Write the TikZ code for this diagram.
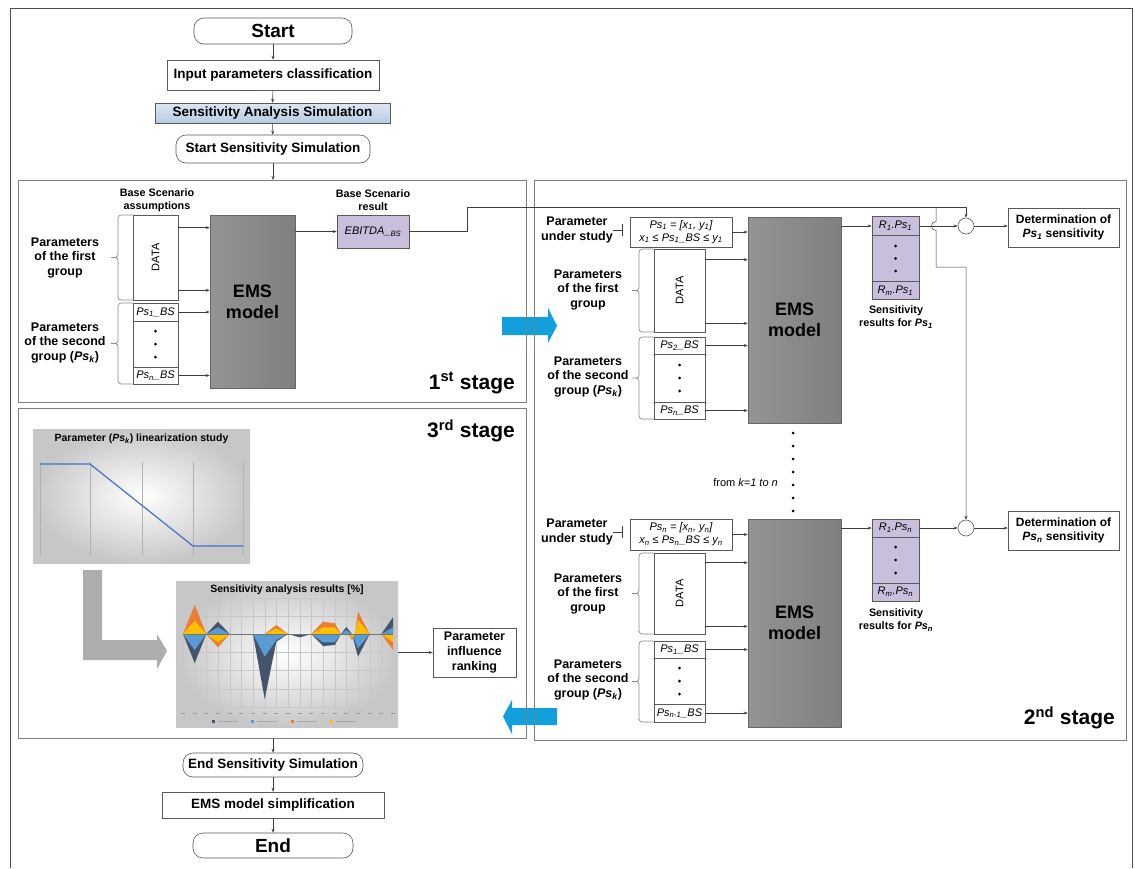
\documentclass[tikz,border=0pt]{standalone}
\usepackage{graphicx}
\usepackage{fontspec}
\setmainfont{Liberation Sans}
\usetikzlibrary{arrows.meta}
\definecolor{sasA}{HTML}{DCE6F1}
\definecolor{sasB}{HTML}{B8CCE4}
\definecolor{purp}{HTML}{C9BEDC}
\definecolor{cyanarrow}{HTML}{12A0DC}
\definecolor{framec}{HTML}{7F7F7F}
\definecolor{orng}{HTML}{ED7D31}
\definecolor{yell}{HTML}{FFC000}
\definecolor{lblue}{HTML}{5B9BD5}
\definecolor{dblue}{HTML}{44546A}
\definecolor{linblue}{HTML}{4472C4}
\newcommand\fsz[2]{\fontsize{#1}{#2}\selectfont}
\newcommand\mybrace[3]{%
  \pgfmathsetmacro\bxv{#1-15}\pgfmathsetmacro\bxt{#1-22}\pgfmathsetmacro\bym{(#2+#3)/2}%
  \draw[bracel] (#1,#2) -- (\bxv+7,#2) .. controls (\bxv,#2) .. (\bxv,#2+7)
    -- (\bxv,\bym-6) .. controls (\bxv,\bym) .. (\bxt,\bym)
    .. controls (\bxv,\bym) .. (\bxv,\bym+6) -- (\bxv,#3-7)
    .. controls (\bxv,#3) .. (\bxv+7,#3) -- (#1,#3);}
\begin{document}
\begin{tikzpicture}[x=1pt,y=-1pt,
  box/.style={draw=black!65, line width=0.6pt, fill=white, inner sep=0pt, align=center, text=black},
  flow/.style={box, font=\fsz{13.5}{16}\bfseries},
  term/.style={flow, rounded corners=10pt},
  lbl/.style={inner sep=0pt, align=center, font=\fsz{12.5}{14.5}\bfseries},
  slbl/.style={inner sep=0pt, align=center, font=\fsz{10.8}{13}\bfseries},
  itbox/.style={box, font=\fsz{11}{13}\itshape},
  purpbox/.style={itbox, fill=purp},
  ems/.style={draw=black!60, line width=0.6pt, left color=black!42, right color=black!50, inner sep=0pt, align=center, font=\fsz{18}{21}\bfseries},
  stagebox/.style={draw=framec, line width=1pt},
  arr/.style={draw=black!75, line width=0.5pt, -{Stealth[length=4pt,width=3pt]}},
  ln/.style={draw=black!75, line width=0.5pt},
  bracel/.style={draw=black!45, line width=0.7pt},
  stagelbl/.style={inner sep=0pt, anchor=east, font=\fsz{21}{24}\bfseries},
  detbox/.style={box, font=\fsz{12}{14.5}\bfseries, minimum width=111, minimum height=39},
  dotc/.style={fill=black}
]
\useasboundingbox (0,0) rectangle (1135,868);
\fill[white] (0,0) rectangle (1135,868);
\draw[black!70, line width=0.8pt] (10,868) -- (10,8) -- (1132,8) -- (1132,868);

% ---------- blue transfer arrows ----------
\fill[cyanarrow] (502,317) -- (548,317) -- (548,308) -- (557,326) -- (548,343) -- (548,335) -- (502,335) -- cycle;
\fill[cyanarrow] (557,708) -- (512,708) -- (512,700) -- (503,716.5) -- (512,734) -- (512,725) -- (557,725) -- cycle;

% ---------- stage frames ----------
\draw[stagebox] (18,180) rectangle (526,402);
\draw[stagebox] (18,408) rectangle (526,738);
\draw[stagebox] (534,180) rectangle (1126,740);
\coordinate (s1top) at (273,180);
\coordinate (s3bot) at (273,738);

% ---------- top flow ----------
\node[term, font=\fsz{19}{22}\bfseries, minimum width=158, minimum height=26] (start) at (273,31) {Start};
\node[flow, minimum width=212, minimum height=30] (input) at (273,75) {Input parameters classification};
\node[flow, top color=sasA, bottom color=sasB, minimum width=235, minimum height=20] (sas) at (272.5,113) {Sensitivity Analysis Simulation};
\node[term, minimum width=194, minimum height=28] (sss) at (273,149) {Start Sensitivity Simulation};
\draw[arr] (start) -- (input);
\draw[arr] (input) -- (sas);
\draw[arr] (sas) -- (sss);
\draw[arr] (sss) -- (s1top);

% ---------- bottom flow ----------
\node[term, minimum width=180, minimum height=24] (ess) at (273,765) {End Sensitivity Simulation};
\node[flow, minimum width=222, minimum height=26] (simp) at (273,805) {EMS model simplification};
\node[term, font=\fsz{19}{22}\bfseries, minimum width=160, minimum height=25] (endn) at (273,845.5) {End};
\draw[arr] (s3bot) -- (ess);
\draw[arr] (ess) -- (simp);
\draw[arr] (simp) -- (endn);

% ---------- 1st stage ----------
\node[slbl] (bsa) at (157,200) {Base Scenario\\assumptions};
\node[box, minimum width=45, minimum height=85] (data1) at (155.5,257.5) {\rotatebox{90}{\fsz{11}{13}DATA}};
\node[itbox, minimum width=45, minimum height=18] (p1a) at (155.5,312) {Ps\textsubscript{1}\_BS};
\node[box, minimum width=45, minimum height=46] (d1) at (155.5,344) {};
\node[itbox, minimum width=45, minimum height=17] (pn1) at (155.5,375.5) {Ps\textsubscript{n}\_BS};
\foreach \yy in {331,344,357} \fill[dotc] (155.5,\yy) circle (1.5pt);
\node[ems, minimum width=85, minimum height=173] (ems1) at (252.5,301.5) {EMS\\model};
\node[purpbox, minimum width=72, minimum height=33] (ebitda) at (373,231.5) {EBITDA\_\textsubscript{BS}};
\node[slbl] (bsr) at (373,200) {Base Scenario\\result};
\draw[arr] ([yshift=-13pt]data1.north east) -- ([yshift=-13pt]data1.north east -| ems1.west);
\draw[arr] ([yshift=10pt]data1.south east) -- ([yshift=10pt]data1.south east -| ems1.west);
\draw[arr] (p1a.east) -- (p1a.east -| ems1.west);
\draw[arr] (pn1.east) -- (pn1.east -| ems1.west);
\draw[arr] (ems1.east |- ebitda.west) -- (ebitda.west);
\mybrace{133}{215}{300}
\mybrace{133}{303}{384}
\node[lbl] (g1a) at (65,258) {Parameters\\of the first\\group};
\node[lbl] (g2a) at (65,343) {Parameters\\of the second\\group (\textit{Ps\textsubscript{k}})};
\node[stagelbl] (st1) at (515,383) {1\textsuperscript{st} stage};

% ---------- 2nd stage, first parameter ----------
\node[lbl] (pus1) at (577,230) {Parameter\\under study};
\node[itbox, minimum width=102, minimum height=30] (rg1) at (681,232) {Ps\textsubscript{1} = [x\textsubscript{1}, y\textsubscript{1}]\\x\textsubscript{1} ≤ Ps\textsubscript{1}\_BS ≤ y\textsubscript{1}};
\draw[ln, -{Bar[width=12pt]}, shorten >=7pt] (pus1.east) -- (pus1.east -| rg1.west);
\node[ems, minimum width=93, minimum height=206] (ems2a) at (794.5,320) {EMS\\model};
\draw[arr] (rg1.east) -- (rg1.east -| ems2a.west);
\node[box, minimum width=51, minimum height=83] (data2a) at (679.5,290.5) {\rotatebox{90}{\fsz{11}{13}DATA}};
\node[itbox, minimum width=51, minimum height=17] (p2a) at (679.5,345.5) {Ps\textsubscript{2}\_BS};
\node[box, minimum width=51, minimum height=48] (d2a) at (679.5,378) {};
\node[itbox, minimum width=51, minimum height=17] (pn2a) at (679.5,410.5) {Ps\textsubscript{n}\_BS};
\foreach \yy in {365,378,391} \fill[dotc] (679.5,\yy) circle (1.5pt);
\draw[arr] ([yshift=-11pt]data2a.north east) -- ([yshift=-11pt]data2a.north east -| ems2a.west);
\draw[arr] ([yshift=9pt]data2a.south east) -- ([yshift=9pt]data2a.south east -| ems2a.west);
\draw[arr] (p2a.east) -- (p2a.east -| ems2a.west);
\draw[arr] (pn2a.east) -- (pn2a.east -| ems2a.west);
\mybrace{654}{249}{332}
\mybrace{654}{337}{419}
\node[lbl] (g1b) at (588,290) {Parameters\\of the first\\group};
\node[lbl] (g2b) at (588,377) {Parameters\\of the second\\group (\textit{Ps\textsubscript{k}})};
\node[purpbox, minimum width=47, minimum height=19] (r11) at (895.5,226) {R\textsubscript{1}.Ps\textsubscript{1}};
\node[purpbox, minimum width=47, minimum height=46] (rd1) at (895.5,258.5) {};
\node[purpbox, minimum width=47, minimum height=18] (rm1) at (895.5,290.5) {R\textsubscript{m}.Ps\textsubscript{1}};
\foreach \yy in {246,258.5,271} \fill[dotc] (895.5,\yy) circle (1.5pt);
\node[slbl] (sr1) at (896,317) {Sensitivity\\results for \textit{Ps\textsubscript{1}}};
\node[circle, draw=black!65, fill=white, line width=0.6pt, minimum size=16, inner sep=0pt] (c1) at (966,226) {};
\node[detbox] (det1) at (1063.5,227.5) {Determination of\\\textit{Ps\textsubscript{1}} sensitivity};
\draw[arr] (ems2a.east |- r11.west) -- (r11.west);
\draw[arr] (r11.east) -- (c1.west);
\draw[arr] (c1.east) -- (c1.east -| det1.west);

% ---------- connections from base scenario result ----------
\coordinate (j1) at (467,207);
\coordinate (j2) at (936,207);
\coordinate (hopa) at (936,221.5);
\coordinate (hopb) at (936,230.5);
\coordinate (j3) at (936,267);
\draw[arr] (ebitda.east) -| (j1) -| (c1.north);

% ---------- dots between ----------
\foreach \yy in {433,446,459,472,485,498,511} \fill[dotc] (793,\yy) circle (1.5pt);
\node[inner sep=0pt, anchor=east, font=\fsz{11}{13}] (fromk) at (778,483) {from \textit{k=1 to n}};

% ---------- 2nd stage, last parameter ----------
\node[lbl] (pus2) at (577,532) {Parameter\\under study};
\node[itbox, minimum width=102, minimum height=31] (rg2) at (681,534.5) {Ps\textsubscript{n} = [x\textsubscript{n}, y\textsubscript{n}]\\x\textsubscript{n} ≤ Ps\textsubscript{n}\_BS ≤ y\textsubscript{n}};
\draw[ln, -{Bar[width=12pt]}, shorten >=7pt] (pus2.east) -- (pus2.east -| rg2.west);
\node[ems, minimum width=93, minimum height=208] (ems2b) at (794.5,623) {EMS\\model};
\draw[arr] (rg2.east) -- (rg2.east -| ems2b.west);
\node[box, minimum width=51, minimum height=81] (data2b) at (679.5,593.5) {\rotatebox{90}{\fsz{11}{13}DATA}};
\node[itbox, minimum width=51, minimum height=17] (p1b) at (679.5,649.5) {Ps\textsubscript{1}\_BS};
\node[box, minimum width=51, minimum height=46] (d2b) at (679.5,681) {};
\node[itbox, minimum width=51, minimum height=18] (pn1b) at (679.5,713) {Ps\textsubscript{n-1}\_BS};
\foreach \yy in {668,681,694} \fill[dotc] (679.5,\yy) circle (1.5pt);
\draw[arr] ([yshift=-10pt]data2b.north east) -- ([yshift=-10pt]data2b.north east -| ems2b.west);
\draw[arr] ([yshift=8pt]data2b.south east) -- ([yshift=8pt]data2b.south east -| ems2b.west);
\draw[arr] (p1b.east) -- (p1b.east -| ems2b.west);
\draw[arr] (pn1b.east) -- (pn1b.east -| ems2b.west);
\mybrace{654}{553}{634}
\mybrace{654}{641}{722}
\node[lbl] (g1c) at (588,594) {Parameters\\of the first\\group};
\node[lbl] (g2c) at (588,680) {Parameters\\of the second\\group (\textit{Ps\textsubscript{k}})};
\node[purpbox, minimum width=47, minimum height=18] (r12) at (895.5,528) {R\textsubscript{1}.Ps\textsubscript{n}};
\node[purpbox, minimum width=47, minimum height=46] (rd2) at (895.5,560) {};
\node[purpbox, minimum width=47, minimum height=18] (rm2) at (895.5,592) {R\textsubscript{m}.Ps\textsubscript{n}};
\foreach \yy in {547,560,573} \fill[dotc] (895.5,\yy) circle (1.5pt);
\node[slbl] (sr2) at (896,620) {Sensitivity\\results for \textit{Ps\textsubscript{n}}};
\node[circle, draw=black!65, fill=white, line width=0.6pt, minimum size=16, inner sep=0pt] (c2) at (966,528) {};
\node[detbox] (det2) at (1063.5,530.5) {Determination of\\\textit{Ps\textsubscript{n}} sensitivity};
\draw[arr] (ems2b.east |- r12.west) -- (r12.west);
\draw[arr] (r12.east) -- (c2.west);
\draw[arr] (c2.east) -- (c2.east -| det2.west);
\draw[arr] (j2) -- (hopa) .. controls +(-6,0) and +(-6,0) .. (hopb) -- (j3) -| (c2.north);
\node[stagelbl] (st2) at (1115,718) {2\textsuperscript{nd} stage};

% ---------- 3rd stage ----------
\node[stagelbl] (st3) at (515,431) {3\textsuperscript{rd} stage};
\node[inner sep=0pt, minimum width=217, minimum height=134, shading=radial, inner color=white, outer color=black!22] (lin) at (141.5,496) {};
\node[inner sep=0pt, font=\fsz{10.5}{12}\bfseries] (lintitle) at (141.5,439) {Parameter (\textit{Ps\textsubscript{k}}) linearization study};
\foreach \xx in {40,90,142,193,243} \draw[black!30, line width=0.4pt] (\xx,462) -- (\xx,556);
\draw[linblue, line width=1.2pt] (40,464) -- (90,464) -- (193,546) -- (243,546);
\fill[black!32] (83,570) -- (102,570) -- (102,640) -- (157,640) -- (157,634) -- (167,651) -- (157,669) -- (157,660) -- (83,660) -- cycle;

\node[inner sep=0pt, minimum width=222, minimum height=146, shading=radial, inner color=white, outer color=black!22] (sens) at (287,654) {};
\node[inner sep=0pt, font=\fsz{10.5}{12}\bfseries] (senstitle) at (287,590) {Sensitivity analysis results [\%]};
\foreach \xx in {183,194.7,206.3,218,229.7,241.3,253,264.7,276.3,288,299.7,311.3,323,334.7,346.3,358,369.7,381.3,393}
  {\draw[black!22, line width=0.4pt] (\xx,598) -- (\xx,707);
   \draw[black!40, line width=0.7pt] (\xx-2,713) -- (\xx+2,713);}
\foreach \yy in {598,616,652,670,689,707} \draw[black!22, line width=0.4pt] (183,\yy) -- (393,\yy);
\fill[dblue] (183,634) -- (194.7,663) -- (206.3,634) -- (218,621.7) -- (229.7,634) -- (253,634) -- (264.7,699) -- (276.3,641.7) -- (288,634) -- (299.7,637.3) -- (311.3,634) -- (323,646) -- (334.7,645) -- (341,634) -- (346.3,627) -- (352,634) -- (358,656.7) -- (369.7,634) -- (381.3,634) -- (393,617.3) -- (393,634) -- cycle;
\fill[lblue] (183,634) -- (194.7,650) -- (206.3,634) -- (218,627.3) -- (229.7,634) -- (253,634) -- (264.7,656.7) -- (276.3,640) -- (288,634) -- (311.3,634) -- (323,642.3) -- (334.7,642.3) -- (341,634) -- (346.3,630) -- (352,634) -- (358,648.3) -- (369.7,634) -- (381.3,634) -- (393,627.3) -- (393,634) -- cycle;
\fill[orng] (183,634) -- (194.7,605) -- (206.3,634) -- (218,647.3) -- (229.7,634) -- (264.7,634) -- (276.3,625) -- (288,634) -- (311.3,634) -- (323,621.7) -- (334.7,623.3) -- (341,634) -- (348,634) -- (352,640) -- (355,634) -- (358,611.7) -- (369.7,634) -- (381.3,634) -- (393,650) -- (393,634) -- cycle;
\fill[yell] (183,634) -- (194.7,620.7) -- (206.3,634) -- (218,642.3) -- (229.7,634) -- (264.7,634) -- (276.3,628.3) -- (288,634) -- (311.3,634) -- (323,627.3) -- (334.7,627.3) -- (341,634) -- (348,634) -- (352,638) -- (355,634) -- (358,620) -- (369.7,634) -- (381.3,634) -- (393,642.3) -- (393,634) -- cycle;
\draw[black!55, line width=0.8pt] (183,634) -- (393,634);
\foreach \xx/\cc in {214/dblue,253/lblue,293/orng,332/yell}
  {\fill[\cc] (\xx-2,719.5) rectangle (\xx+1,722.5);
   \draw[black!35, line width=0.8pt] (\xx+4,721) -- (\xx+24,721);}
\node[box, font=\fsz{12.5}{15}\bfseries, minimum width=83, minimum height=49] (pir) at (474.5,652.5) {Parameter\\influence\\ranking};
\draw[arr] (sens.east |- pir.west) -- (pir.west);
\end{tikzpicture}
\end{document}
